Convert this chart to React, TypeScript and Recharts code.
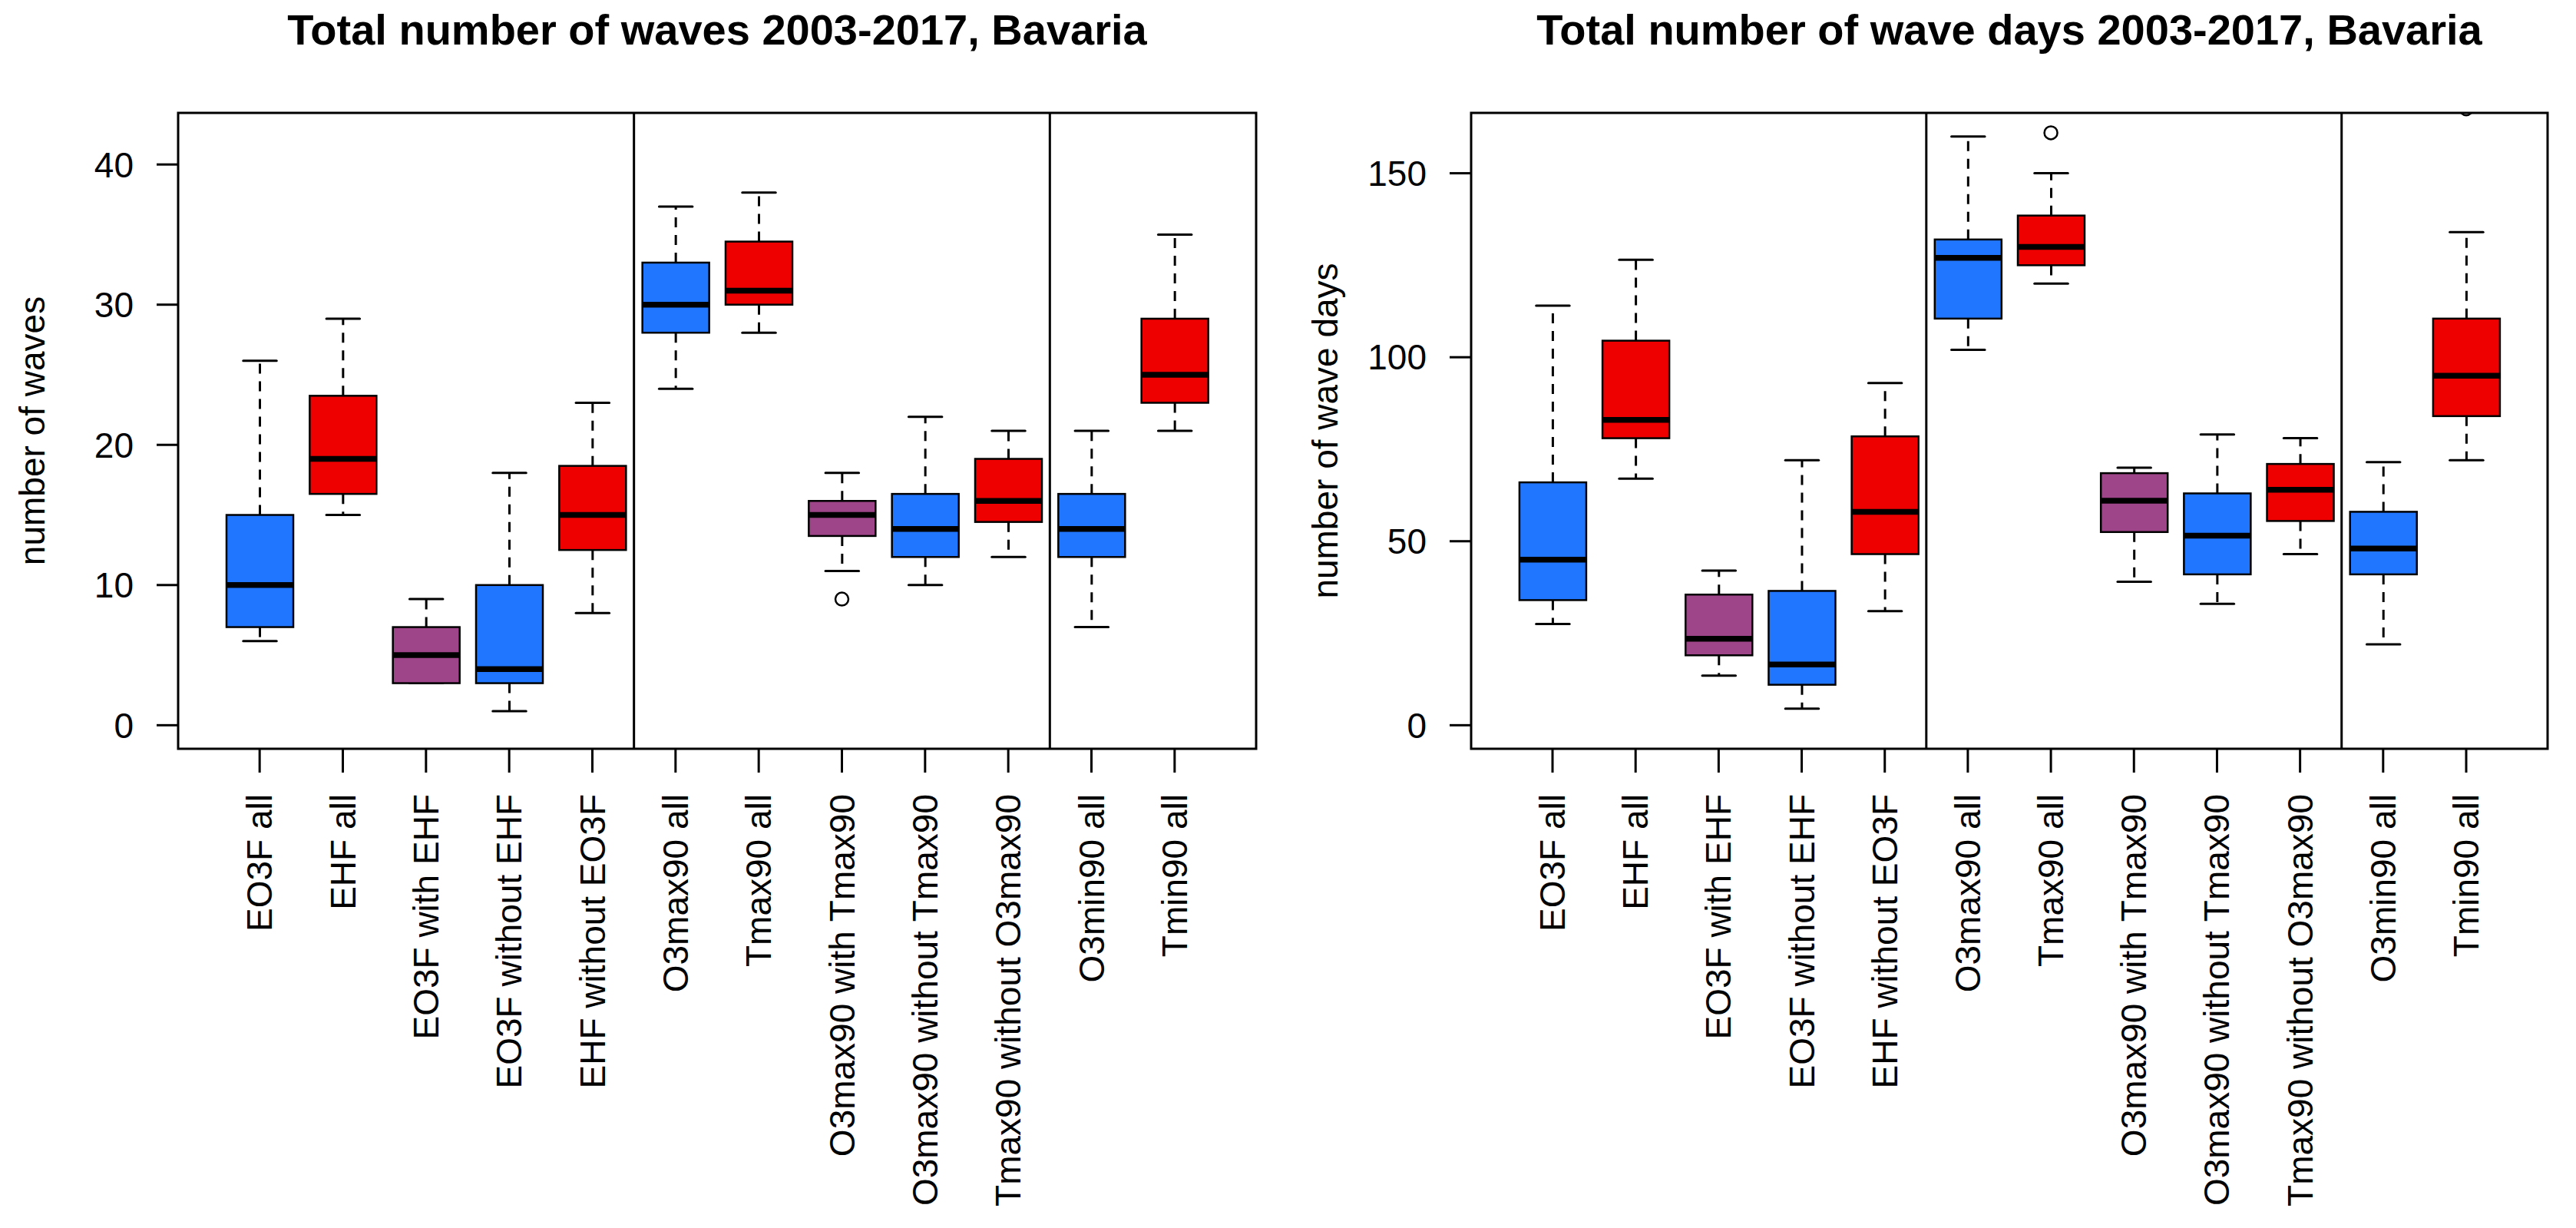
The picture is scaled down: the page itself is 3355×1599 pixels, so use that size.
import { ComposedChart, Bar, Scatter, XAxis, YAxis, ReferenceLine, ReferenceArea } from 'recharts';

// box categories, identical on both panels
const categories = [
  'EO3F all', 'EHF all', 'EO3F with EHF', 'EO3F without EHF', 'EHF without EO3F',
  'O3max90 all', 'Tmax90 all', 'O3max90 with Tmax90', 'O3max90 without Tmax90',
  'Tmax90 without O3max90', 'O3min90 all', 'Tmin90 all',
];
const groupBreaks = [5.5, 10.5];

// number of waves
const wavesLow = [6, 15, 3, 1, 8, 24, 28, 11, 10, 12, 7, 21];
const wavesQ1 = [7, 16.5, 3, 3, 12.5, 28, 30, 13.5, 12, 14.5, 12, 23];
const wavesMed = [10, 19, 5, 4, 15, 30, 31, 15, 14, 16, 14, 25];
const wavesQ3 = [15, 23.5, 7, 10, 18.5, 33, 34.5, 16, 16.5, 19, 16.5, 29];
const wavesHigh = [26, 29, 9, 18, 23, 37, 38, 18, 22, 21, 21, 35];
const wavesOutliers = [{ x: 8, y: 9 }];
const wavesTicks = [0, 10, 20, 30, 40];
const wavesLim = [0, 42];

// number of wave days
const daysLow = [27.5, 67, 13.5, 4.5, 31, 102, 120, 39, 33, 46.5, 22, 72];
const daysQ1 = [34, 78, 19, 11, 46.5, 110.5, 125, 52.5, 41, 55.5, 41, 84];
const daysMed = [45, 83, 23.5, 16.5, 58, 127, 130, 61, 51.5, 64, 48, 95];
const daysQ3 = [66, 104.5, 35.5, 36.5, 78.5, 132, 138.5, 68.5, 63, 71, 58, 110.5];
const daysHigh = [114, 126.5, 42, 72, 93, 160, 150, 70, 79, 78, 71.5, 134];
const daysOutliers = [{ x: 7, y: 161 }, { x: 12, y: 167.5 }];
const daysTicks = [0, 50, 100, 150];
const daysLim = [0, 160];

const BLUE = '#2176FF';
const RED = '#EE0000';
const PURPLE = '#9E4488';
const boxFills = [BLUE, RED, PURPLE, BLUE, RED, BLUE, RED, PURPLE, BLUE, RED, BLUE, RED];

const FONT = '"Liberation Sans", Arial, sans-serif';

// R style axis extension (4% each side)
const ext = (lo: number, hi: number) => {
  const d = (hi - lo) * 0.04;
  return [lo - d, hi + d];
};
const xDomain = ext(0.5, categories.length + 0.5);

const BoxShape = (props: any) => {
  const { x, y, width, height, payload } = props;
  const top = Math.min(y, y + height);
  const bottom = Math.max(y, y + height);
  const [lo, hi] = payload.range;
  const k = hi > lo ? (bottom - top) / (hi - lo) : 0;
  const py = (v: number) => bottom - (v - lo) * k;
  const cx = x + width / 2;
  const half = width / 2;
  const cap = width / 4;
  const fill = boxFills[payload.idx];
  return (
    <g>
      <line x1={cx} x2={cx} y1={py(payload.q3)} y2={py(hi)} stroke="#000" strokeWidth={3} strokeDasharray="13 10" />
      <line x1={cx} x2={cx} y1={py(payload.q1)} y2={py(lo)} stroke="#000" strokeWidth={3} strokeDasharray="13 10" />
      <line x1={cx - cap} x2={cx + cap} y1={py(hi)} y2={py(hi)} stroke="#000" strokeWidth={3} strokeLinecap="round" />
      <line x1={cx - cap} x2={cx + cap} y1={py(lo)} y2={py(lo)} stroke="#000" strokeWidth={3} strokeLinecap="round" />
      <rect x={cx - half} y={py(payload.q3)} width={width} height={py(payload.q1) - py(payload.q3)}
        fill={fill} stroke="#000" strokeWidth={2.5} />
      <line x1={cx - half} x2={cx + half} y1={py(payload.med)} y2={py(payload.med)} stroke="#000" strokeWidth={7.5} />
    </g>
  );
};

const Outlier = (props: any) => (
  <circle cx={props.cx} cy={props.cy} r={8.5} fill="none" stroke="#000" strokeWidth={2.5} />
);

const XTick = ({ x, y, payload }: any) => (
  <text x={x} y={y} transform={`rotate(-90, ${x}, ${y})`} textAnchor="end" dominantBaseline="central"
    fontSize={46} fontFamily={FONT} fill="#000">
    {categories[payload.value - 1]}
  </text>
);

type PanelProps = {
  title: string;
  yLabel: string;
  low: number[]; q1: number[]; med: number[]; q3: number[]; high: number[];
  outliers: { x: number; y: number }[];
  ticks: number[];
  lim: number[];
  left: number;
  width: number;
  marginRight: number;
};

function Panel({ title, yLabel, low, q1, med, q3, high, outliers, ticks, lim, left, width, marginRight }: PanelProps) {
  const data = categories.map((name, i) => ({
    name, idx: i, x: i + 1, range: [low[i], high[i]], q1: q1[i], med: med[i], q3: q3[i],
  }));
  const yDomain = ext(lim[0], lim[1]);
  const axisW = 232;
  const plotW = width - axisW - marginRight;
  return (
    <div style={{ position: 'absolute', left, top: 0, width, height: 1599 }}>
      <div style={{
        position: 'absolute', left: axisW, width: plotW, top: 11, textAlign: 'center',
        fontFamily: FONT, fontWeight: 700, fontSize: 56, lineHeight: 1, color: '#000', whiteSpace: 'nowrap',
      }}>{title}</div>
      <ComposedChart width={width} height={1599} data={data}
        margin={{ top: 147, right: marginRight, bottom: 24, left: 0 }}>
        <XAxis type="number" dataKey="x" domain={xDomain} allowDataOverflow ticks={data.map(d => d.x)}
          interval={0} axisLine={false} tickSize={31} tickMargin={28} height={600}
          tickLine={{ stroke: '#000', strokeWidth: 3 }} tick={<XTick />} />
        <YAxis type="number" domain={yDomain} allowDataOverflow ticks={ticks} interval={0}
          axisLine={false} tickSize={28} tickMargin={30} width={axisW}
          tickLine={{ stroke: '#000', strokeWidth: 3 }}
          tick={{ fontSize: 46, fill: '#000', fontFamily: FONT }}
          label={{
            content: (p: any) => {
              const vb = p.viewBox;
              const cx = vb.x + 42;
              const cy = vb.y + vb.height / 2;
              return (
                <text x={cx} y={cy} transform={`rotate(-90, ${cx}, ${cy})`} textAnchor="middle"
                  dominantBaseline="central" fontSize={46} fontFamily={FONT} fill="#000">{yLabel}</text>
              );
            },
          }} />
        <Bar dataKey="range" barSize={87} shape={<BoxShape />} isAnimationActive={false} />
        <Scatter data={outliers} dataKey="y" shape={<Outlier />} isAnimationActive={false} />
        {groupBreaks.map(b => (
          <ReferenceLine key={b} x={b} stroke="#000" strokeWidth={3} />
        ))}
        <ReferenceArea x1={xDomain[0]} x2={xDomain[1]} y1={yDomain[0]} y2={yDomain[1]}
          fill="none" fillOpacity={0} stroke="#000" strokeWidth={3} ifOverflow="visible" />
      </ComposedChart>
    </div>
  );
}

export default function App() {
  return (
    <div style={{ position: 'absolute', left: 0, top: 0, width: 3355, height: 1599, background: '#fff' }}>
      <Panel title="Total number of waves 2003-2017, Bavaria" yLabel="number of waves"
        low={wavesLow} q1={wavesQ1} med={wavesMed} q3={wavesQ3} high={wavesHigh}
        outliers={wavesOutliers} ticks={wavesTicks} lim={wavesLim}
        left={0} width={1684} marginRight={48} />
      <Panel title="Total number of wave days 2003-2017, Bavaria" yLabel="number of wave days"
        low={daysLow} q1={daysQ1} med={daysMed} q3={daysQ3} high={daysHigh}
        outliers={daysOutliers} ticks={daysTicks} lim={daysLim}
        left={1684} width={1671} marginRight={37} />
    </div>
  );
}
